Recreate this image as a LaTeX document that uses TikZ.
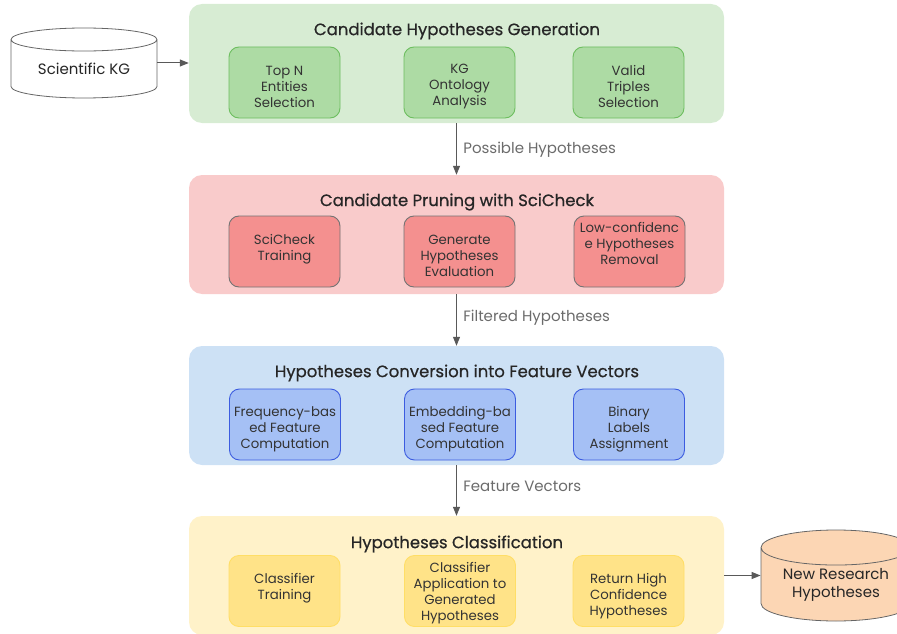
\documentclass[tikz,border=0pt]{standalone}
\usepackage{fontspec}
\setmainfont{Poppins}
\newfontfamily\titlefont[FakeBold=0.6]{Poppins}
\usetikzlibrary{shapes.geometric,arrows.meta}

\definecolor{genback}{HTML}{D7ECD3}
\definecolor{genbox}{HTML}{ADDBA4}
\definecolor{genline}{HTML}{6DBE5F}
\definecolor{pruneback}{HTML}{F9CBCB}
\definecolor{prunebox}{HTML}{F4908F}
\definecolor{convback}{HTML}{CDE1F5}
\definecolor{convbox}{HTML}{A5C0F5}
\definecolor{convline}{HTML}{3C5CE0}
\definecolor{clsback}{HTML}{FFF2C9}
\definecolor{clsbox}{HTML}{FFE388}
\definecolor{clsline}{HTML}{FFDE66}
\definecolor{peach}{HTML}{FCD6B4}
\definecolor{arrowgray}{HTML}{595959}
\definecolor{labelgray}{HTML}{6B6B6B}

\tikzset{
    panel/.style={rounded corners=13pt, minimum width=535pt, minimum height=119pt, inner sep=0pt},
    paneltitle/.style={font=\titlefont\fontsize{16.5}{19}\selectfont, text=black!85},
    stepbox/.style={draw, rounded corners=10pt, line width=0.9pt, minimum width=111pt,
        minimum height=71pt, inner sep=1pt},
    steptext/.style={align=center, inner sep=0pt, font=\fontsize{13.3}{16}\selectfont, text=black!80},
    genstep/.style={stepbox, fill=genbox, draw=genline},
    prunestep/.style={stepbox, fill=prunebox, draw=black!55},
    convstep/.style={stepbox, fill=convbox, draw=convline},
    clsstep/.style={stepbox, fill=clsbox, draw=clsline},
    store/.style={cylinder, shape border rotate=90, draw=black!60, line width=0.8pt,
        anchor=shape center, align=center, inner sep=0pt,
        font=\fontsize{15}{18}\selectfont, text=black!85},
    flow/.style={draw=arrowgray, line width=1pt, -{Triangle[length=9pt,width=7pt]}},
    flowlabel/.style={anchor=west, xshift=3pt, text=labelgray, font=\fontsize{15}{16}\selectfont}
}

\begin{document}
\begin{tikzpicture}[x=1pt, y=-1pt]
    \useasboundingbox (0,0) rectangle (897,634);

    % stage panels
    \node (gen)   [panel, fill=genback]   at (456.5, 63.5)  {};
    \node (prune) [panel, fill=pruneback] at (456.5, 234.5) {};
    \node (conv)  [panel, fill=convback]  at (456.5, 405.5) {};
    \node (cls)   [panel, fill=clsback]   at (456.5, 575.5) {};

    \node (gentitle)   [paneltitle] at (457, 31)  {Candidate Hypotheses Generation};
    \node (prunetitle) [paneltitle] at (457, 202) {Candidate Pruning with SciCheck};
    \node (convtitle)  [paneltitle] at (457, 373) {Hypotheses Conversion into Feature Vectors};
    \node (clstitle)   [paneltitle] at (457, 544) {Hypotheses Classification};

    % generation steps
    \node (topn)  [genstep, label={[steptext, yshift=-4pt]center:Top N\\Entities\\Selection}] at (284.5, 82.5) {};
    \node (onto)  [genstep, label={[steptext, yshift=-4pt]center:KG\\Ontology\\Analysis}] at (459.5, 82.5) {};
    \node (valid) [genstep, label={[steptext, yshift=-4pt]center:Valid\\Triples\\Selection}] at (628.5, 82.5) {};

    % pruning steps
    \node (train)  [prunestep, label={[steptext, yshift=2pt]center:SciCheck\\Training}] at (284.5, 251.5) {};
    \node (eval)   [prunestep, label={[steptext, yshift=-4pt]center:Generate\\Hypotheses\\Evaluation}] at (459.5, 251.5) {};
    \node (remove) [prunestep, label={[steptext, yshift=8pt]center:Low-confidenc\\e Hypotheses\\Removal}] at (629.5, 251.5) {};

    % conversion steps
    \node (freq)  [convstep, label={[steptext, yshift=-5pt]center:Frequency-bas\\ed Feature\\Computation}] at (285, 424.5) {};
    \node (embed) [convstep, label={[steptext, yshift=-5pt]center:Embedding-ba\\sed Feature\\Computation}] at (460, 424.5) {};
    \node (label) [convstep, label={[steptext, yshift=-5pt]center:Binary\\Labels\\Assignment}] at (629, 424.5) {};

    % classification steps
    \node (clstrain) [clsstep, label={[steptext, yshift=3pt]center:Classifier\\Training}] at (284.5, 591) {};
    \node (clsapply) [clsstep, label={[steptext, yshift=-2pt]center:Classifier\\Application to\\Generated\\Hypotheses}] at (460, 591) {};
    \node (clshigh)  [clsstep, label={[steptext, yshift=-5pt]center:Return High\\Confidence\\Hypotheses}] at (628.5, 591) {};

    % data stores
    \node (kg)  [store, fill=white, minimum width=146pt, minimum height=70pt, aspect=0.25] at (84, 63) {Scientific KG};
    \node (new) [store, fill=peach, minimum width=150pt, minimum height=91pt, aspect=0.33] at (836, 575.5) {New Research\\Hypotheses};

    \draw[flow] (kg.shape center -| kg.east) -- (kg.shape center -| gen.west);
    \draw[flow] (gen) -- (prune) node[flowlabel, pos=0.52] {Possible Hypotheses};
    \draw[flow] (prune) -- (conv) node[flowlabel, pos=0.46] {Filtered Hypotheses};
    \draw[flow] (conv) -- (cls) node[flowlabel, pos=0.42] {Feature Vectors};
    \draw[flow] (new.shape center -| cls.east) -- (new.shape center -| new.west);
\end{tikzpicture}
\end{document}
